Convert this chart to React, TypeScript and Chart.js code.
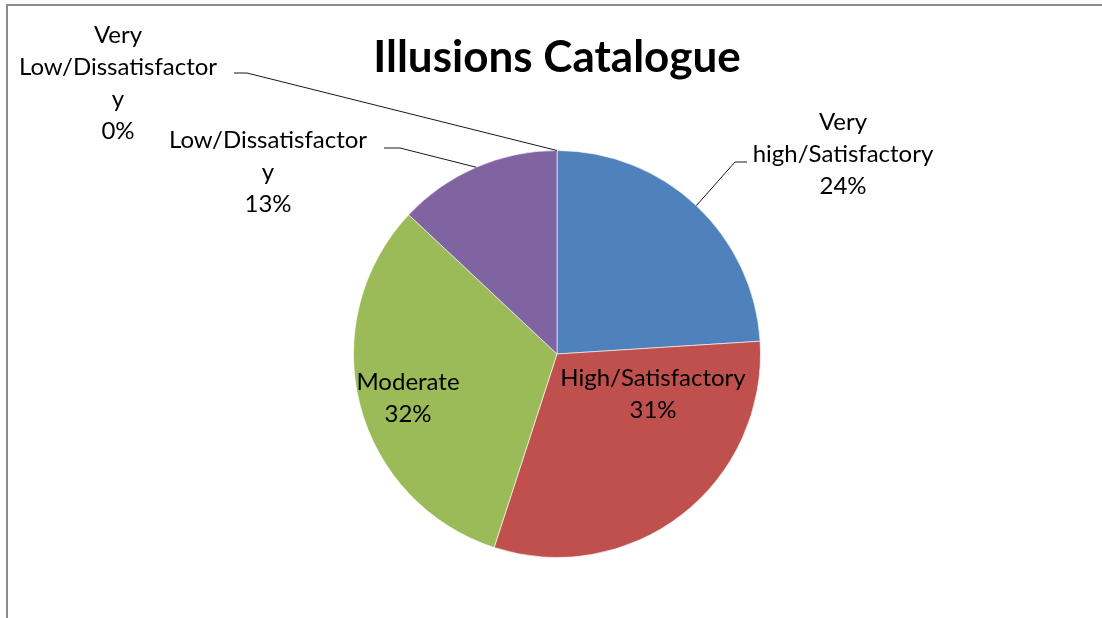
import React, { useEffect, useRef } from "react";
import { Chart, registerables } from "chart.js";

Chart.register(...registerables);

// ---- Data ----
const categories = [
  "Very high/Satisfactory",
  "High/Satisfactory",
  "Moderate",
  "Low/Dissatisfactory",
  "Very Low/Dissatisfactory",
];
const values = [24, 31, 32, 13, 0];
const sliceColors = ["#4F81BD", "#C0504D", "#9BBB59", "#8064A2", "#4BACC6"];
const titleText = "Illusions Catalogue";

// ---- Label layout (wrapped text lines, text anchor, optional leader elbow) ----
const labelLines = [
  ["Very", "high/Satisfactory"],
  ["High/Satisfactory"],
  ["Moderate"],
  ["Low/Dissatisfactor", "y"],
  ["Very", "Low/Dissatisfactor", "y"],
];
type LabelPos = { x: number; y: number; leader?: number[][] };
const labelLayout: LabelPos[] = [
  { x: 843, y: 130, leader: [[747, 162], [735, 162]] },
  { x: 653, y: 386 },
  { x: 408, y: 390 },
  { x: 268, y: 148, leader: [[384, 148], [400, 148]] },
  { x: 118, y: 43, leader: [[234, 73], [247, 73]] },
];
const LINE_H = 32;
const LABEL_FONT = "24px Lato";

const labelPlugin = {
  id: "pieLabels",
  beforeDraw(chart: any) {
    const ctx = chart.ctx;
    ctx.save();
    ctx.fillStyle = "#ffffff";
    ctx.fillRect(0, 0, chart.width, chart.height);
    ctx.fillStyle = "#8c8c8c";
    ctx.fillRect(6, 4, chart.width - 6, 2);
    ctx.fillRect(6, 4, 2, chart.height - 4);
    ctx.restore();
  },
  afterDraw(chart: any) {
    const ctx = chart.ctx;
    const meta = chart.getDatasetMeta(0);
    const total = values.reduce((a, b) => a + b, 0);
    ctx.save();
    meta.data.forEach((arc: any, i: number) => {
      const p = arc.getProps(["x", "y", "startAngle", "endAngle", "outerRadius"], true);
      const mid = (p.startAngle + p.endAngle) / 2;
      const lay = labelLayout[i];
      if (lay.leader) {
        const ax = p.x + Math.cos(mid) * p.outerRadius;
        const ay = p.y + Math.sin(mid) * p.outerRadius;
        ctx.beginPath();
        ctx.strokeStyle = "#1a1a1a";
        ctx.lineWidth = 1;
        ctx.moveTo(lay.leader[0][0], lay.leader[0][1]);
        for (let k = 1; k < lay.leader.length; k++) ctx.lineTo(lay.leader[k][0], lay.leader[k][1]);
        ctx.lineTo(ax, ay);
        ctx.stroke();
      }
      const pct = Math.round((values[i] / total) * 100) + "%";
      const lines = [...labelLines[i], pct];
      ctx.font = LABEL_FONT;
      ctx.fillStyle = "#000000";
      ctx.textAlign = "center";
      ctx.textBaseline = "alphabetic";
      lines.forEach((t, k) => ctx.fillText(t, lay.x, lay.y + k * LINE_H));
    });
    ctx.restore();
  },
};

export default function App() {
  const ref = useRef<HTMLCanvasElement | null>(null);
  useEffect(() => {
    if (!ref.current) return;
    const chart = new Chart(ref.current, {
      type: "pie",
      data: {
        labels: categories,
        datasets: [
          {
            data: values,
            backgroundColor: sliceColors,
            borderColor: "rgba(255,255,255,0.6)",
            borderWidth: 1,
            hoverOffset: 0,
            offset: 0,
          },
        ],
      },
      options: {
        animation: false,
        responsive: true,
        maintainAspectRatio: false,
        events: [],
        layout: { padding: { left: 353, right: 341, top: 0, bottom: 60 } },
        plugins: {
          legend: { display: false },
          tooltip: { enabled: false },
          title: {
            display: true,
            text: titleText,
            color: "#000000",
            font: { family: "Lato", size: 44, weight: "bold", lineHeight: 1.2 },
            padding: { top: 31, bottom: 66.2 },
          },
        },
      },
      plugins: [labelPlugin],
    });
    return () => chart.destroy();
  }, []);
  return (
    <div style={{ position: "fixed", left: 0, top: 0, width: 1102, height: 618, background: "#fff" }}>
      <canvas ref={ref} />
    </div>
  );
}
